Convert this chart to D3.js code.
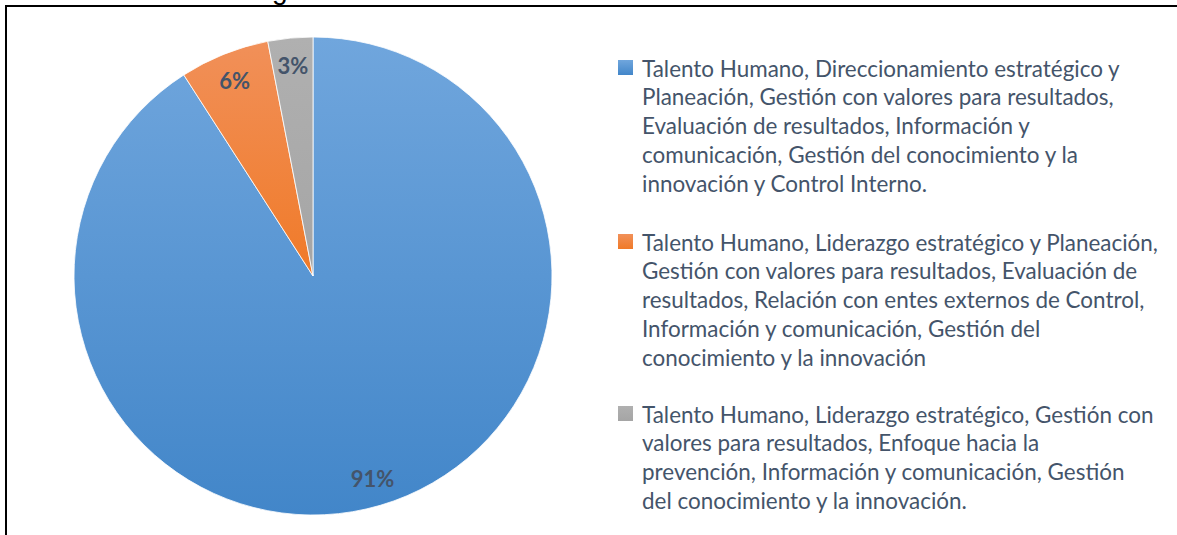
<!DOCTYPE html>
<html>
<head>
<meta charset="utf-8">
<script src="https://cdn.jsdelivr.net/npm/d3@7"></script>
<style>
  html, body { margin: 0; padding: 0; background: #fff; }
  svg { display: block; }
</style>
</head>
<body>
<svg id="chart" width="1177" height="535"></svg>
<script>
// ---- data ----
const categories = [
  ["Talento Humano, Direccionamiento estratégico y",
   "Planeación, Gestión con valores para resultados,",
   "Evaluación de resultados, Información y",
   "comunicación, Gestión del conocimiento y la",
   "innovación y Control Interno."],
  ["Talento Humano, Liderazgo estratégico y Planeación,",
   "Gestión con valores para resultados, Evaluación de",
   "resultados, Relación con entes externos de Control,",
   "Información y comunicación, Gestión del",
   "conocimiento y la innovación"],
  ["Talento Humano, Liderazgo estratégico, Gestión con",
   "valores para resultados, Enfoque hacia la",
   "prevención, Información y comunicación, Gestión",
   "del conocimiento y la innovación."]
];
const values = [30, 2, 1];
const titleFragment = "g";

// ---- style ----
const colorsTop = ["#70a6dd", "#f19059", "#b0b0b0"];
const colorsBottom = ["#4286c9", "#f07a28", "#a5a5a5"];
const labelColor = "#44546a";
const textColor = "#44546a";

const svg = d3.select("#chart");
const defs = svg.append("defs");

values.forEach((v, i) => {
  const g = defs.append("linearGradient")
    .attr("id", "grad" + i)
    .attr("x1", 0).attr("y1", 0).attr("x2", 0).attr("y2", 1);
  g.append("stop").attr("offset", "0%").attr("stop-color", colorsTop[i]);
  g.append("stop").attr("offset", "100%").attr("stop-color", colorsBottom[i]);
});

// truncated title fragment above frame (cut off in the reference too)
svg.append("text")
  .attr("x", 272).attr("y", -1)
  .attr("font-family", "Liberation Sans, Arial, sans-serif")
  .attr("font-size", 28)
  .attr("fill", "#000")
  .text(titleFragment);

// frame
svg.append("rect")
  .attr("x", 6).attr("y", 6)
  .attr("width", 1200).attr("height", 600)
  .attr("fill", "none")
  .attr("stroke", "#000")
  .attr("stroke-width", 2);

// pie
const cx = 313, cy = 276, R = 239;
const pie = d3.pie().sort(null).value(d => d);
const arcs = pie(values);
const arc = d3.arc().innerRadius(0).outerRadius(R);
const labelArc = d3.arc().innerRadius(211).outerRadius(211);
const total = d3.sum(values);

const pg = svg.append("g").attr("transform", `translate(${cx},${cy})`);
pg.selectAll("path.slice")
  .data(arcs)
  .join("path")
  .attr("class", "slice")
  .attr("d", arc)
  .attr("fill", (d, i) => `url(#grad${i})`)
  .attr("stroke", "#fff")
  .attr("stroke-width", 0.8);

pg.selectAll("text.lbl")
  .data(arcs)
  .join("text")
  .attr("class", "lbl")
  .attr("transform", d => `translate(${labelArc.centroid(d)})`)
  .attr("text-anchor", "middle")
  .attr("dominant-baseline", "central")
  .attr("font-family", "Lato, 'Open Sans', sans-serif")
  .attr("font-weight", "bold")
  .attr("font-size", 22)
  .attr("fill", labelColor)
  .text(d => Math.round(d.data / total * 100) + "%");

// legend
const legendX = 618, textX = 642;
const lineH = 28.8;
const entryStarts = [68, 242, 414];
const lg = svg.append("g");

// measure font size so the first line spans the reference width
const probe = lg.append("text")
  .attr("font-family", "Lato, 'Open Sans', sans-serif")
  .attr("font-size", 20)
  .text(categories[0][0]);
const w20 = probe.node().getComputedTextLength();
probe.remove();
const fs = 20 * 478 / w20;

categories.forEach((lines, i) => {
  const y0 = entryStarts[i];
  lg.append("rect")
    .attr("x", legendX).attr("y", y0 - 8)
    .attr("width", 15).attr("height", 15)
    .attr("fill", `url(#grad${i})`);
  const t = lg.append("text")
    .attr("font-family", "Lato, 'Open Sans', sans-serif")
    .attr("font-size", fs)
    .attr("fill", textColor);
  lines.forEach((ln, j) => {
    t.append("tspan")
      .attr("x", textX)
      .attr("y", y0 + j * lineH)
      .attr("dominant-baseline", "central")
      .text(ln);
  });
});
</script>
</body>
</html>
